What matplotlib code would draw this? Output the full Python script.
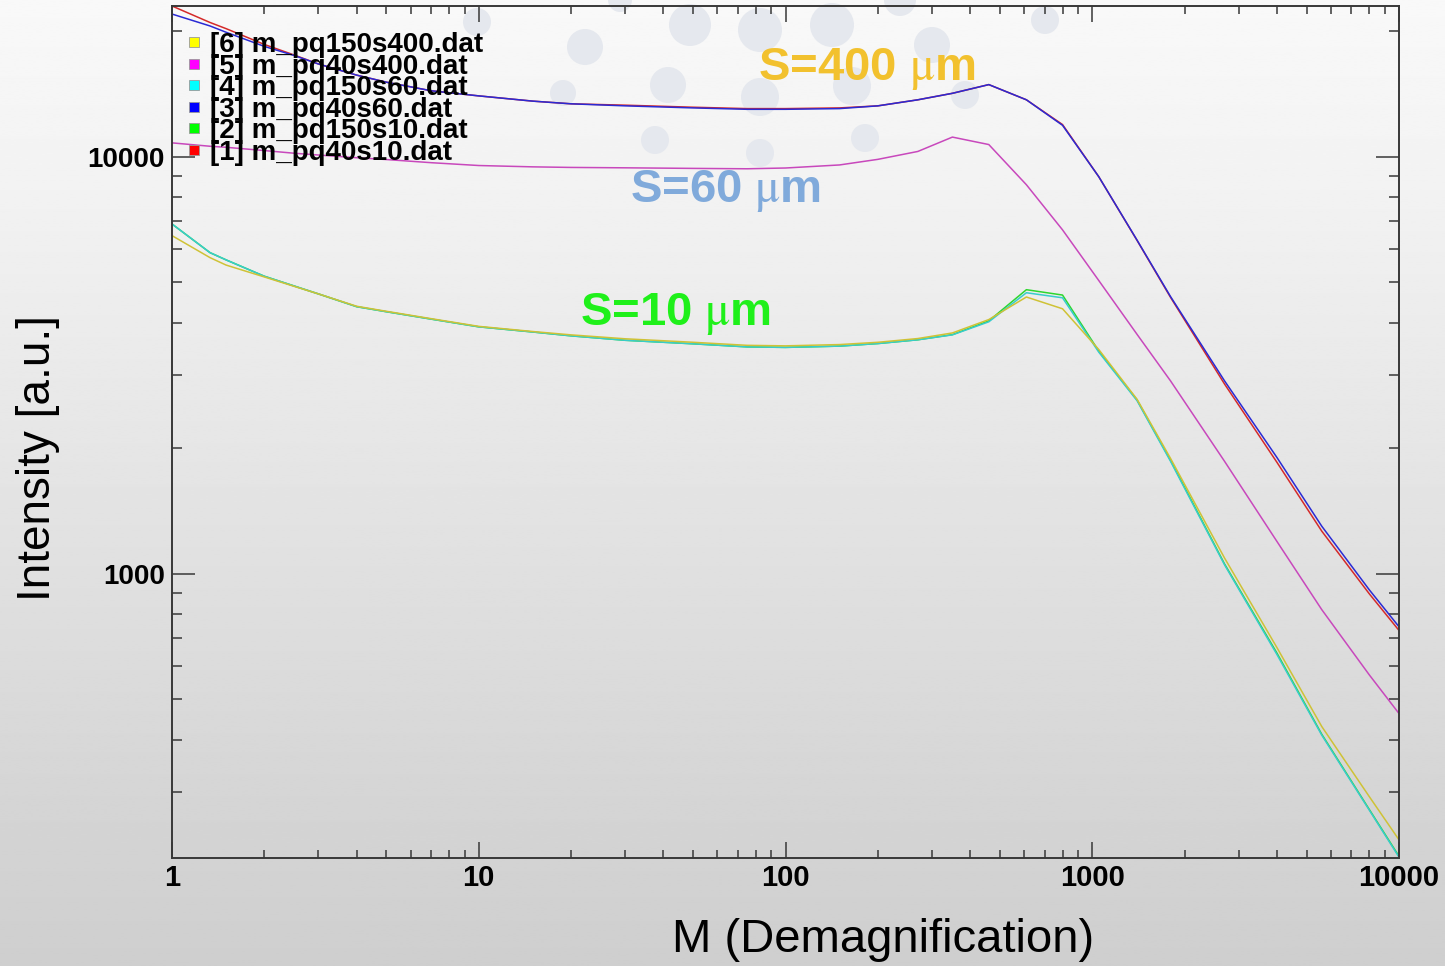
import numpy as np
import matplotlib
matplotlib.use("Agg")
import matplotlib.pyplot as plt
from matplotlib.lines import Line2D
from matplotlib.patches import Circle
from matplotlib.ticker import LogLocator, NullFormatter

plt.rcParams["font.family"] = ["Liberation Sans", "DejaVu Sans"]
plt.rcParams["mathtext.fontset"] = "stix"

# demagnification grid (x) and intensities
demag = [1, 1.33, 1.5, 2, 2.5, 3, 4, 5, 7, 10, 15, 20, 30, 50, 75, 100, 150,
         200, 270, 350, 460, 610, 800, 1050, 1400, 1800, 2700, 4000, 5600,
         8000, 10000]

pq40s10 = [23000, 21000, 20300, 18600, 17550, 16700, 15700, 15100, 14400,
           14000, 13600, 13400, 13300, 13150, 13050, 13050, 13100, 13250,
           13700, 14200, 14900, 13700, 11950, 8960, 6300, 4600, 2850, 1850,
           1265, 895, 731]
pq150s10 = [6900, 5890, 5660, 5170, 4900, 4690, 4370, 4250, 4080, 3910, 3800,
            3720, 3630, 3560, 3500, 3490, 3515, 3565, 3640, 3745, 4040, 4800,
            4660, 3420, 2610, 1870, 1055, 645, 412, 272, 210]
pq40s60 = [22000, 20600, 19900, 18400, 17500, 16700, 15700, 15100, 14400,
           14000, 13600, 13400, 13250, 13100, 13000, 13000, 13050, 13250,
           13700, 14200, 14900, 13700, 11900, 8960, 6310, 4620, 2900, 1900,
           1300, 915, 746]
pq150s60 = [6900, 5890, 5660, 5170, 4900, 4690, 4370, 4250, 4080, 3910, 3800,
            3720, 3630, 3560, 3500, 3490, 3515, 3565, 3640, 3740, 4020, 4720,
            4590, 3400, 2600, 1860, 1050, 640, 410, 271, 209]
pq40s400 = [10800, 10600, 10540, 10350, 10200, 10100, 9950, 9850, 9680, 9530,
            9460, 9430, 9410, 9380, 9360, 9400, 9560, 9860, 10300, 11150,
            10700, 8570, 6680, 5050, 3750, 2900, 1860, 1195, 820, 572, 462]
pq150s400 = [6470, 5730, 5500, 5150, 4890, 4690, 4380, 4260, 4090, 3920, 3810,
             3740, 3660, 3590, 3530, 3520, 3545, 3590, 3665, 3780, 4070, 4610,
             4320, 3450, 2620, 1890, 1090, 665, 430, 292, 230]

series = [pq40s10, pq150s10, pq40s60, pq150s60, pq40s400, pq150s400]
labels = ["[1] m_pq40s10.dat", "[2] m_pq150s10.dat", "[3] m_pq40s60.dat",
          "[4] m_pq150s60.dat", "[5] m_pq40s400.dat", "[6] m_pq150s400.dat"]
line_colors = ["#d42a2a", "#2ed62e", "#2a2ad4", "#38cccc", "#c848bc", "#cfc236"]
marker_colors = ["#ff0000", "#00ff00", "#0000ff", "#00ffff", "#ff00ff", "#ffff00"]

x_ticks = [1, 10, 100, 1000, 10000]
x_ticklabels = ["1", "10", "100", "1000", "10000"]
y_ticks = [1000, 10000]
y_ticklabels = ["1000", "10000"]

# faint dots of the slide template behind the plot (pixel x, y, radius)
bg_dots = [(477, 22, 14), (585, 47, 18), (563, 93, 13), (668, 85, 18),
           (655, 140, 14), (690, 25, 21), (760, 30, 22), (760, 97, 19),
           (760, 153, 14), (832, 25, 22), (852, 86, 19), (865, 138, 14),
           (932, 45, 18), (965, 95, 14), (1045, 20, 14), (900, 0, 16),
           (620, 0, 12)]

fig = plt.figure(figsize=(14.45, 9.66), dpi=100)

# slide background: vertical grey gradient
bg = fig.add_axes([0, 0, 1, 1], zorder=-10)
rows = np.linspace(0, 1, 400)
shade = np.interp(rows, [0, 0.18, 0.5, 0.83, 1.0], [0.975, 0.952, 0.895, 0.835, 0.81])
bg.imshow(np.repeat(shade[:, None], 2, axis=1), cmap="gray", vmin=0, vmax=1,
          aspect="auto", extent=[0, 1445, 966, 0])
for dx, dy, r in bg_dots:
    bg.add_patch(Circle((dx, dy), r, color="#e5e8ee", lw=0))
bg.set_xlim(0, 1445)
bg.set_ylim(966, 0)
bg.set_axis_off()

ax = fig.add_axes([172 / 1445, 108 / 966, 1227 / 1445, 852 / 966])
ax.set_facecolor("none")

for vals, c, lab in zip(series, line_colors, labels):
    ax.plot(demag, vals, color=c, lw=1.1, label=lab)

ax.set_xscale("log")
ax.set_yscale("log")
ax.set_xlim(1, 10000)
ax.set_ylim(208, 23000)

ax.set_xticks(x_ticks)
ax.set_xticklabels(x_ticklabels)
ax.set_yticks(y_ticks)
ax.set_yticklabels(y_ticklabels)
ax.xaxis.set_minor_locator(LogLocator(base=10, subs=range(2, 10)))
ax.yaxis.set_minor_locator(LogLocator(base=10, subs=range(2, 10)))
ax.xaxis.set_minor_formatter(NullFormatter())
ax.yaxis.set_minor_formatter(NullFormatter())

for s in ax.spines.values():
    s.set_color("#383838")
    s.set_linewidth(1.4)
ax.tick_params(which="both", direction="in", top=True, right=True,
               color="#383838", width=1.1)
ax.tick_params(axis="x", which="major", length=11.5, pad=4, labelsize=21)
ax.tick_params(axis="x", which="minor", length=5.5)
ax.tick_params(axis="y", which="major", length=16.5, pad=5, labelsize=20)
ax.tick_params(axis="y", which="minor", length=7.5)
for t in ax.get_xticklabels() + ax.get_yticklabels():
    t.set_fontweight("bold")

fig.text(0.026, 0.526, "Intensity [a.u.]", rotation=90, ha="center",
         va="center", fontsize=33)
fig.text(0.611, 0.027, "M (Demagnification)", ha="center", va="center",
         fontsize=34)

ax.text(0.4776, 0.913, r"S=400 $\mathrm{\mu}$m", transform=ax.transAxes,
        color="#f2c12e", fontsize=34, fontweight="bold", va="baseline")
ax.text(0.373, 0.770, r"S=60 $\mathrm{\mu}$m", transform=ax.transAxes,
        color="#80aadb", fontsize=34, fontweight="bold", va="baseline")
ax.text(0.3325, 0.6256, r"S=10 $\mathrm{\mu}$m", transform=ax.transAxes,
        color="#1ff01a", fontsize=34, fontweight="bold", va="baseline")

handles = [Line2D([], [], ls="none", marker="s", markersize=6.5,
                  markerfacecolor=c, markeredgecolor="#999999",
                  markeredgewidth=0.6) for c in marker_colors]
leg = ax.legend(handles[::-1], labels[::-1], loc="upper left",
                bbox_to_anchor=(0.012, 0.9695), frameon=False,
                prop={"size": 20, "weight": "bold"}, labelspacing=-0.16,
                handlelength=0.5, handletextpad=0.35, borderaxespad=0,
                borderpad=0)

fig.savefig("out.png", dpi=100)
